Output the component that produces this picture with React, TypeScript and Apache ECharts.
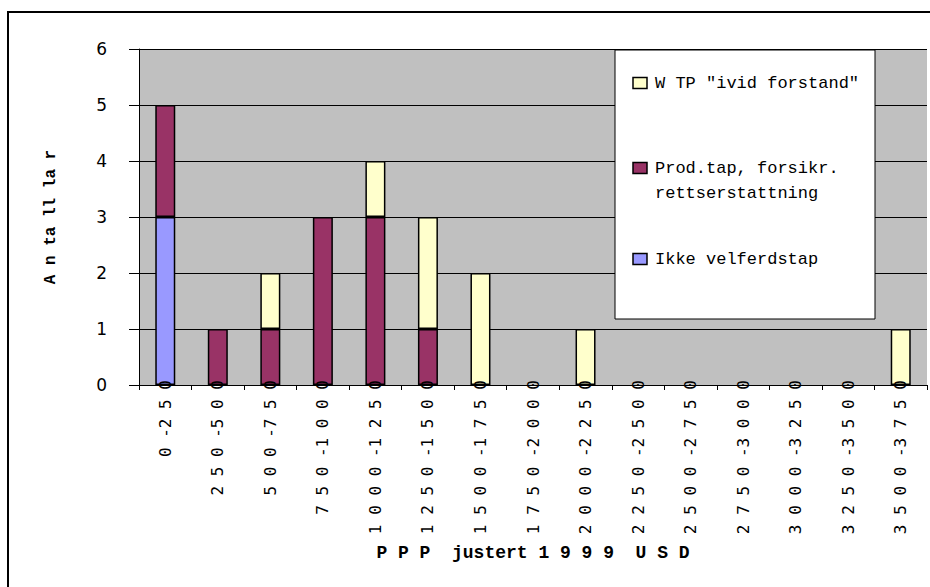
import React, { useEffect, useRef } from "react";
import * as echarts from "echarts";

// Income intervals (PPP-adjusted 1999 USD)
const categories = [
  "0-250", "250-500", "500-750", "750-1000", "1000-1250", "1250-1500",
  "1500-1750", "1750-2000", "2000-2250", "2250-2500", "2500-2750",
  "2750-3000", "3000-3250", "3250-3500", "3500-3750",
];

// Counts per interval, one array per valuation category
const ikkeVelferdstap = [3, 0, 0, 0, 0, 0, 0, 0, 0, 0, 0, 0, 0, 0, 0];
const prodTap = [2, 1, 1, 3, 3, 1, 0, 0, 0, 0, 0, 0, 0, 0, 0];
const wtp = [0, 0, 1, 0, 1, 2, 2, 0, 1, 0, 0, 0, 0, 0, 1];

const yTicks = [0, 1, 2, 3, 4, 5, 6];

const seriesNames = {
  ikke: "Ikke velferdstap",
  prod: "Prod.tap, forsikr. rettserstattning",
  wtp: 'WTP "ivid forstand"',
};

const COLORS = { ikke: "#9999FF", prod: "#993366", wtp: "#FFFFCC" };

const MONO = "'Liberation Mono', 'DejaVu Sans Mono', monospace";
const MONO_TICK = "'DejaVu Sans Mono', 'Liberation Mono', monospace";

// Spread the characters of an interval label apart
function spaced(s: string): string {
  let out = "";
  for (let i = 0; i < s.length; i++) {
    out += s[i];
    if (i < s.length - 1 && s[i] !== "-") out += " ";
  }
  return out;
}

// Empty stack segments are left out so no zero-height outline is drawn
const nz = (arr: number[]) => arr.map((v) => (v === 0 ? "-" : v));

export default function App() {
  const ref = useRef<HTMLDivElement>(null);

  useEffect(() => {
    if (!ref.current) return;
    const chart = echarts.init(ref.current, null, { renderer: "svg" });

    const barStyle = (color: string) => ({
      color,
      borderColor: "#000",
      borderWidth: 1.5,
    });

    const legendItems = [
      { color: COLORS.wtp, lines: ['W TP "ivid forstand"'], y: 83 },
      { color: COLORS.prod, lines: ["Prod.tap, forsikr.", "rettserstattning"], y: 168 },
      { color: COLORS.ikke, lines: ["Ikke velferdstap"], y: 259 },
    ];

    const legendGraphics: any[] = [
      {
        type: "rect",
        shape: { x: 615, y: 50, width: 260, height: 269 },
        style: { fill: "#fff", stroke: "#000", lineWidth: 1 },
        z: 100,
      },
    ];
    legendItems.forEach((it) => {
      legendGraphics.push({
        type: "rect",
        shape: { x: 633, y: it.y - 5.5, width: 14, height: 11 },
        style: { fill: it.color, stroke: "#000", lineWidth: 1.5 },
        z: 101,
      });
      it.lines.forEach((line, k) => {
        legendGraphics.push({
          type: "text",
          x: 655,
          y: it.y + k * 25,
          style: {
            text: line,
            font: `17px ${MONO}`,
            fill: "#000",
            verticalAlign: "middle",
            align: "left",
          },
          z: 101,
        });
      });
    });

    chart.setOption({
      animation: false,
      backgroundColor: "#fff",
      grid: {
        left: 139,
        right: 3,
        top: 49,
        bottom: 202,
        show: true,
        backgroundColor: "#C0C0C0",
        borderWidth: 0,
        containLabel: false,
        outerBoundsMode: "none",
      },
      xAxis: {
        type: "category",
        data: categories,
        boundaryGap: true,
        z: 3,
        name: "P P P  justert 1 9 9 9  U S D",
        nameLocation: "middle",
        nameGap: 159,
        nameMoveOverlap: false,
        nameTextStyle: {
          fontFamily: MONO,
          fontWeight: "bold",
          fontSize: 18,
          color: "#000",
        },
        axisLine: { show: true, lineStyle: { color: "#000", width: 1 } },
        axisTick: { show: true, length: 5, interval: 0, lineStyle: { color: "#000" } },
        axisLabel: {
          interval: 0,
          rotate: 90,
          margin: -5,
          fontFamily: MONO_TICK,
          fontSize: 16,
          color: "#000",
          formatter: (v: string) => spaced(v),
        },
        splitLine: { show: false },
      },
      yAxis: {
        type: "value",
        min: yTicks[0],
        max: yTicks[yTicks.length - 1],
        interval: 1,
        name: "A n ta ll la r",
        nameLocation: "middle",
        nameRotate: 90,
        nameGap: 80,
        nameMoveOverlap: false,
        nameTextStyle: {
          fontFamily: MONO,
          fontWeight: "bold",
          fontSize: 16,
          color: "#000",
        },
        axisLine: { show: true, lineStyle: { color: "#000", width: 1 } },
        axisTick: { show: true, length: 10, lineStyle: { color: "#000" } },
        axisLabel: {
          margin: 32,
          fontFamily: "'DejaVu Sans', Verdana, sans-serif",
          fontSize: 17,
          color: "#000",
        },
        splitLine: { show: true, lineStyle: { color: "#000", width: 1 } },
      },
      series: [
        {
          name: seriesNames.ikke,
          type: "bar",
          stack: "total",
          data: nz(ikkeVelferdstap),
          barWidth: 20,
          itemStyle: barStyle(COLORS.ikke),
        },
        {
          name: seriesNames.prod,
          type: "bar",
          stack: "total",
          data: nz(prodTap),
          barWidth: 20,
          itemStyle: barStyle(COLORS.prod),
        },
        {
          name: seriesNames.wtp,
          type: "bar",
          stack: "total",
          data: nz(wtp),
          barWidth: 20,
          itemStyle: barStyle(COLORS.wtp),
        },
      ],
      graphic: [
        {
          type: "rect",
          shape: { x: 8, y: 12, width: 1000, height: 1000 },
          style: { fill: "none", stroke: "#000", lineWidth: 2 },
          silent: true,
          z: 200,
        },
        ...legendGraphics,
      ],
    });

    return () => chart.dispose();
  }, []);

  return (
    <div
      ref={ref}
      style={{ position: "fixed", left: 0, top: 0, width: 930, height: 587 }}
    />
  );
}
